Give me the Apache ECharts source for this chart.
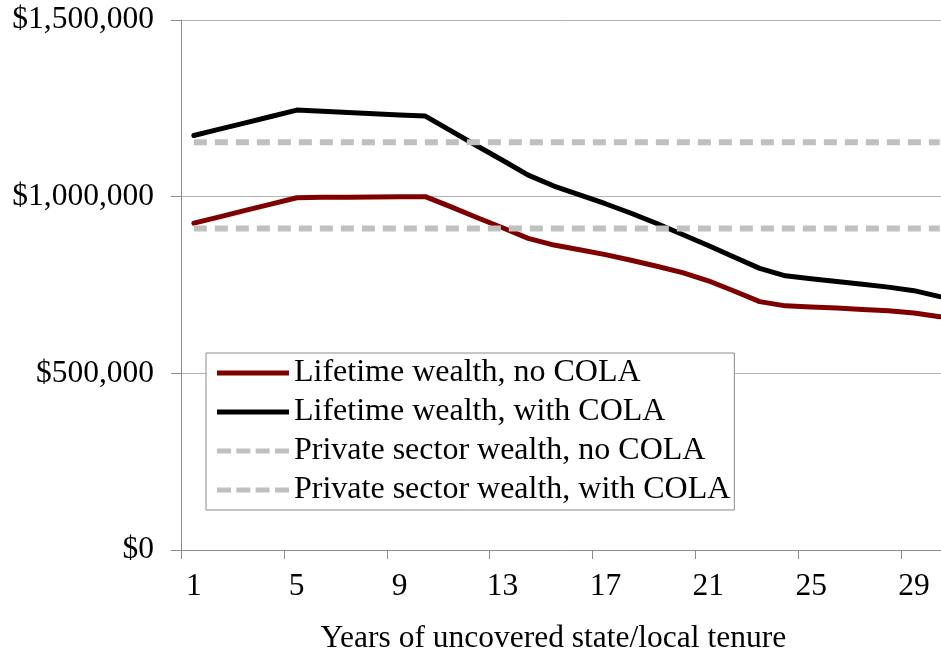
<!DOCTYPE html>
<html>
<head>
<meta charset="utf-8">
<script src="https://cdn.jsdelivr.net/npm/echarts@6/dist/echarts.min.js"></script>
<style>
  html, body { margin: 0; padding: 0; background: #fff; }
  #chart { width: 941px; height: 660px; }
</style>
</head>
<body>
<div id="chart"></div>
<script>
  // years of uncovered state/local tenure
  const years = ['1','2','3','4','5','6','7','8','9','10','11','12','13','14','15',
                 '16','17','18','19','20','21','22','23','24','25','26','27','28','29','30']

  const noCola = [925000, 943000, 961000, 979000, 997000, 998000, 998500, 999000, 999500, 1000000,
                  971000, 941000, 912000, 882000, 863000, 850000, 836000, 820000, 803000, 785000,
                  762000, 733000, 703000, 691000, 688000, 685000, 681000, 677000, 671000, 660000]

  const withCola = [1173000, 1191000, 1209000, 1227000, 1245000, 1242000, 1238000, 1235000, 1231000, 1228000,
                    1186000, 1144000, 1103000, 1061000, 1030000, 1005000, 980000, 953000, 924000, 893000,
                    862000, 829000, 797000, 776000, 768000, 760000, 752000, 744000, 734000, 717000]

  const privateNoCola = 910000
  const privateWithCola = 1154000

  const yTicks = [0, 500000, 1000000, 1500000]

  const font = 'Liberation Serif'
  const fs = 31.5

  // legend icons: a solid bar and a bar of four dashes
  const solidIcon = 'path://M0,0H72V5H0Z'
  const dashIcon = 'path://M0,0h14v5h-14z M19.3,0h14v5h-14z M38.6,0h14v5h-14z M58,0h14v5h-14z'

  const option = {
    animation: false,
    backgroundColor: '#fff',
    textStyle: {fontFamily: font},
    grid: {left: 181, top: 20, right: -11.6, bottom: 110, outerBoundsMode: 'none', containLabel: false},
    legend: {
      orient: 'vertical',
      left: 206,
      top: 353,
      padding: [4, 4, 4, 11],
      itemWidth: 72,
      itemHeight: 5,
      itemGap: 7,
      borderColor: '#8c8c8c',
      borderWidth: 1,
      backgroundColor: '#fff',
      textStyle: {fontFamily: font, fontSize: 32, color: '#000', lineHeight: 31.5},
      data: [
        {name: 'Lifetime wealth, no COLA', icon: solidIcon},
        {name: 'Lifetime wealth, with COLA', icon: solidIcon},
        {name: 'Private sector wealth, no COLA', icon: dashIcon},
        {name: 'Private sector wealth, with COLA', icon: dashIcon}
      ]
    },
    xAxis: {
      type: 'category',
      data: years,
      boundaryGap: true,
      name: 'Years of uncovered state/local tenure',
      nameLocation: 'middle',
      nameGap: 73,
      nameTextStyle: {fontFamily: font, fontSize: fs, color: '#000', padding: [0, 27, 0, 0]},
      axisLine: {lineStyle: {color: '#8c8c8c', width: 1}},
      axisTick: {show: true, interval: 3, length: 9, lineStyle: {color: '#8c8c8c'}},
      axisLabel: {interval: 3, margin: 21, fontFamily: font, fontSize: fs, color: '#000'},
      splitLine: {show: false}
    },
    yAxis: {
      type: 'value',
      min: yTicks[0],
      max: yTicks[yTicks.length - 1],
      interval: yTicks[1] - yTicks[0],
      axisLine: {show: true, lineStyle: {color: '#8c8c8c', width: 1}},
      axisTick: {show: true, length: 10, lineStyle: {color: '#8c8c8c'}},
      axisLabel: {
        margin: 27,
        fontFamily: font,
        fontSize: fs,
        color: '#000',
        formatter: v => '$' + v.toLocaleString('en-US')
      },
      splitLine: {show: true, lineStyle: {color: '#b4b4b4', width: 1}}
    },
    series: [
      {
        name: 'Lifetime wealth, no COLA',
        type: 'line',
        data: noCola,
        symbol: 'none',
        lineStyle: {color: '#7f0000', width: 5, cap: 'round', join: 'round'},
        itemStyle: {color: '#7f0000'}
      },
      {
        name: 'Lifetime wealth, with COLA',
        type: 'line',
        data: withCola,
        symbol: 'none',
        lineStyle: {color: '#000', width: 5, cap: 'round', join: 'round'},
        itemStyle: {color: '#000'}
      },
      {
        name: 'Private sector wealth, no COLA',
        type: 'line',
        data: years.map(() => privateNoCola),
        symbol: 'none',
        lineStyle: {color: '#c0c0c0', width: 6, type: [13, 8]},
        itemStyle: {color: '#c0c0c0'}
      },
      {
        name: 'Private sector wealth, with COLA',
        type: 'line',
        data: years.map(() => privateWithCola),
        symbol: 'none',
        lineStyle: {color: '#c0c0c0', width: 6, type: [13, 8]},
        itemStyle: {color: '#c0c0c0'}
      }
    ]
  }

  const myChart = echarts.init(document.getElementById('chart'))
  myChart.setOption(option)
</script>
</body>
</html>
